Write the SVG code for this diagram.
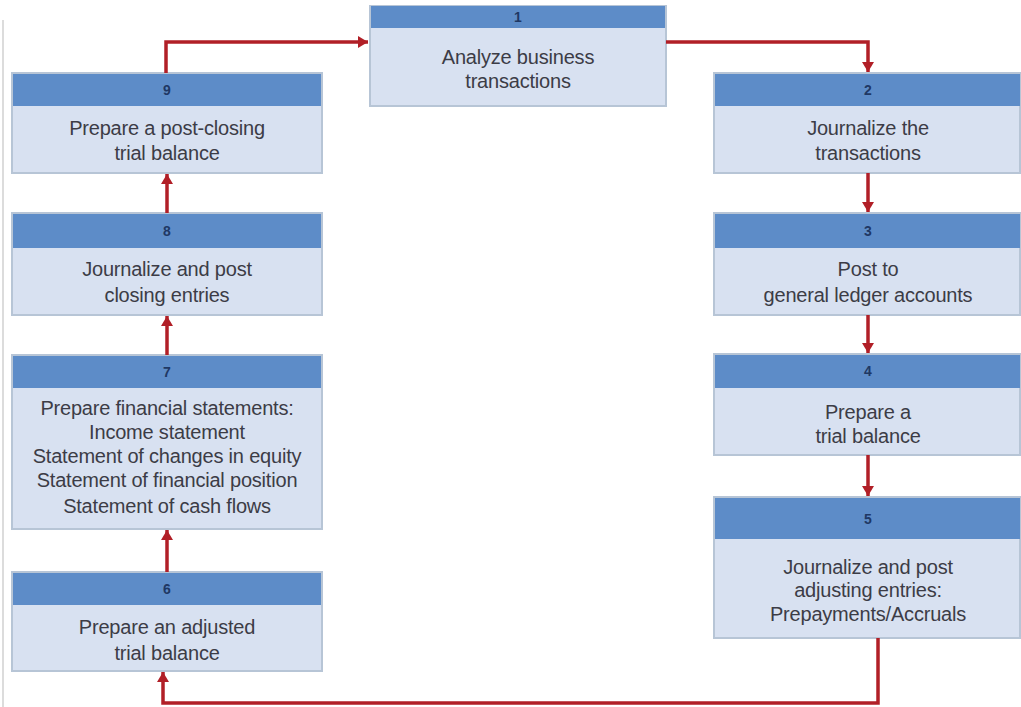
<svg xmlns="http://www.w3.org/2000/svg" width="1021" height="707" viewBox="0 0 1021 707">
<style>
.hdr{fill:#5d8cc8;}
.body{fill:#d8e1f1;stroke:#b7c5d6;stroke-width:2;}
.num{font-family:"Liberation Sans",Arial,sans-serif;font-size:14px;font-weight:bold;fill:#1f3864;text-anchor:middle;}
.txt{font-family:"Liberation Sans",Arial,sans-serif;font-size:20px;fill:#3c3c46;text-anchor:middle;letter-spacing:-0.2px;}
.conn{fill:none;stroke:#b11f27;stroke-width:3.5;stroke-linejoin:miter;}
</style>
<defs>
<marker id="ah" markerUnits="userSpaceOnUse" markerWidth="12" markerHeight="12" refX="10" refY="6" orient="auto">
<path d="M0,0 L10,6 L0,12 Z" fill="#b11f27"/>
</marker>
</defs>
<rect width="1021" height="707" fill="#ffffff"/>
<line x1="3" y1="20" x2="3" y2="707" stroke="#dcdcdc" stroke-width="2"/>

<g id="node1">
<rect class="body" x="370" y="6" width="296" height="100"/>
<rect class="hdr" x="371" y="6" width="294" height="22"/>
<text class="num" x="518" y="22">1</text>
<text class="txt" x="518" y="64">Analyze business</text>
<text class="txt" x="518" y="88">transactions</text>
</g>

<g id="node2">
<rect class="body" x="714" y="73" width="306" height="100"/>
<rect class="hdr" x="715" y="74" width="305" height="32"/>
<text class="num" x="868" y="95">2</text>
<text class="txt" x="868" y="135">Journalize the</text>
<text class="txt" x="868" y="160">transactions</text>
</g>

<g id="node3">
<rect class="body" x="714" y="213" width="306" height="102"/>
<rect class="hdr" x="715" y="214" width="305" height="34"/>
<text class="num" x="868" y="236">3</text>
<text class="txt" x="868" y="276">Post to</text>
<text class="txt" x="868" y="302">general ledger accounts</text>
</g>

<g id="node4">
<rect class="body" x="714" y="354" width="306" height="101"/>
<rect class="hdr" x="715" y="355" width="305" height="33"/>
<text class="num" x="868" y="376">4</text>
<text class="txt" x="868" y="419">Prepare a</text>
<text class="txt" x="868" y="443">trial balance</text>
</g>

<g id="node5">
<rect class="body" x="714" y="497" width="306" height="141"/>
<rect class="hdr" x="715" y="498" width="305" height="41"/>
<text class="num" x="868" y="524">5</text>
<text class="txt" x="868" y="574">Journalize and post</text>
<text class="txt" x="868" y="597">adjusting entries:</text>
<text class="txt" x="868" y="621">Prepayments/Accruals</text>
</g>

<g id="node6">
<rect class="body" x="12" y="572" width="310" height="99"/>
<rect class="hdr" x="13" y="573" width="308" height="32"/>
<text class="num" x="167" y="594">6</text>
<text class="txt" x="167" y="634">Prepare an adjusted</text>
<text class="txt" x="167" y="660">trial balance</text>
</g>

<g id="node7">
<rect class="body" x="12" y="355" width="310" height="174"/>
<rect class="hdr" x="13" y="356" width="308" height="32"/>
<text class="num" x="167" y="377">7</text>
<text class="txt" x="167" y="415">Prepare financial statements:</text>
<text class="txt" x="167" y="439">Income statement</text>
<text class="txt" x="167" y="463">Statement of changes in equity</text>
<text class="txt" x="167" y="487">Statement of financial position</text>
<text class="txt" x="167" y="513">Statement of cash flows</text>
</g>

<g id="node8">
<rect class="body" x="12" y="213" width="310" height="102"/>
<rect class="hdr" x="13" y="214" width="308" height="34"/>
<text class="num" x="167" y="236">8</text>
<text class="txt" x="167" y="276">Journalize and post</text>
<text class="txt" x="167" y="302">closing entries</text>
</g>

<g id="node9">
<rect class="body" x="12" y="73" width="310" height="100"/>
<rect class="hdr" x="13" y="74" width="308" height="32"/>
<text class="num" x="167" y="95">9</text>
<text class="txt" x="167" y="135">Prepare a post-closing</text>
<text class="txt" x="167" y="160">trial balance</text>
</g>

<g id="connectors">
<path class="conn" d="M166,73 L166,42 L368,42" marker-end="url(#ah)"/>
<path class="conn" d="M666,42 L868,42 L868,72" marker-end="url(#ah)"/>
<path class="conn" d="M868,173 L868,212" marker-end="url(#ah)"/>
<path class="conn" d="M868,315 L868,353" marker-end="url(#ah)"/>
<path class="conn" d="M868,455 L868,496" marker-end="url(#ah)"/>
<path class="conn" d="M878,638 L878,703 L163,703 L163,672" marker-end="url(#ah)"/>
<path class="conn" d="M167,572 L167,530" marker-end="url(#ah)"/>
<path class="conn" d="M167,355 L167,316" marker-end="url(#ah)"/>
<path class="conn" d="M167,213 L167,174" marker-end="url(#ah)"/>
</g>
</svg>
